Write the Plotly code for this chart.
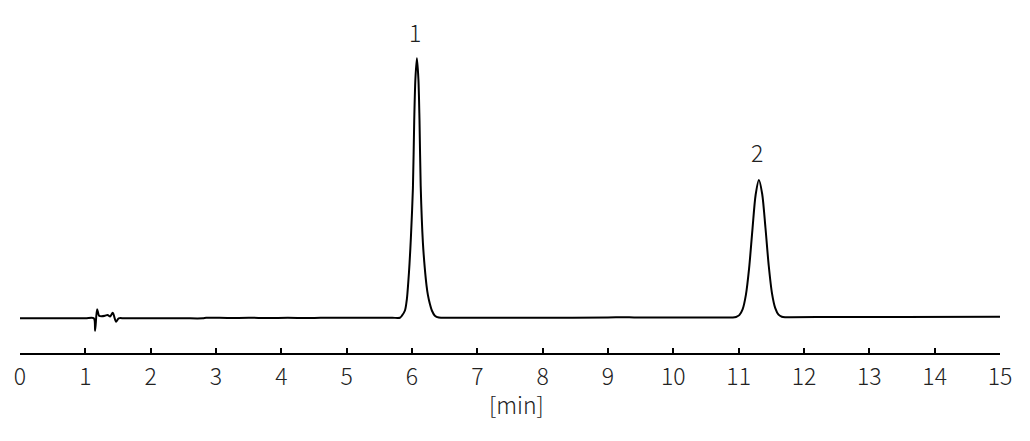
import plotly.graph_objects as go

# Retention time (min) and detector signal (relative units, peak 1 = 100)
time_min = [0.0, 0.5, 1.0, 1.13, 1.15, 1.18, 1.21, 1.25, 1.30, 1.34, 1.38, 1.42, 1.47, 1.51,
            1.6, 2.0, 2.5, 2.8, 2.85, 3.2, 3.5, 3.8, 4.1, 4.4, 4.6, 5.0, 5.5, 5.7,
            5.815, 5.846, 5.892, 5.922, 5.942, 5.962, 5.983, 6.014, 6.034, 6.052, 6.075,
            6.098, 6.115, 6.133, 6.167, 6.195, 6.223, 6.243, 6.274, 6.304, 6.35, 6.41,
            6.6, 7.0, 8.0, 9.0, 9.25, 9.4, 10.0, 10.5, 10.8,
            10.91, 10.96, 11.01, 11.06, 11.11, 11.16, 11.21, 11.26, 11.31,
            11.36, 11.41, 11.46, 11.51, 11.56, 11.61, 11.66, 11.71,
            11.8, 12.5, 13.5, 15.0]
signal = [0.0, 0.0, 0.0, 0.0, -4.8, 3.5, 1.0, 0.8, 1.0, 1.3, 0.7, 2.1, -1.3, 0.0,
          0.0, 0.0, 0.0, 0.0, 0.2, 0.1, 0.2, 0.1, 0.2, 0.1, 0.2, 0.2, 0.2, 0.2,
          0.2, 1.0, 3.0, 7.5, 13.5, 21.0, 31.0, 50.0, 76.0, 92.0, 100.0,
          92.0, 76.0, 51.0, 29.0, 19.5, 12.5, 9.0, 5.5, 3.0, 1.0, 0.3,
          0.2, 0.2, 0.2, 0.3, 0.4, 0.3, 0.3, 0.3, 0.3,
          0.3, 0.5, 1.2, 3.4, 8.9, 19.3, 33.9, 47.5, 53.2,
          47.8, 34.8, 20.3, 9.6, 3.9, 1.4, 0.6, 0.4,
          0.4, 0.5, 0.5, 0.6]

peak_labels = ["1", "2"]
peak_label_x = [6.045, 11.28]
peak_label_y = [110.2, 64.0]

tick_vals = list(range(0, 16))
x_title = "[min]"

fig = go.Figure()
fig.add_trace(go.Scatter(
    x=time_min, y=signal, mode="lines",
    line=dict(color="black", width=2, shape="spline", smoothing=0.8),
    hoverinfo="skip", cliponaxis=False,
))

for lab, lx, ly in zip(peak_labels, peak_label_x, peak_label_y):
    fig.add_annotation(x=lx, y=ly, text=lab, showarrow=False,
                       font=dict(size=23, color="#222"))

# axis title drawn as an annotation below the tick labels
fig.add_annotation(x=0.5, y=0, xref="paper", yref="paper", text=x_title,
                   showarrow=False, yanchor="middle", yshift=-51, xshift=6,
                   font=dict(size=23, color="#222"))

fig.update_layout(
    width=1022, height=433,
    margin=dict(l=12, r=30, t=12, b=88, autoexpand=False),
    plot_bgcolor="white", paper_bgcolor="white",
    showlegend=False,
    font=dict(family="Noto Sans CJK JP", size=23, color="#222", weight=300),
)
fig.update_xaxes(
    range=[0, 15], tickvals=tick_vals, ticktext=[str(v) for v in tick_vals],
    showline=True, linecolor="black", linewidth=2,
    ticks="inside", ticklen=5, tickwidth=2, tickcolor="black",
    showgrid=False, zeroline=False, automargin=False,
    tickfont=dict(size=23, color="#222"),
    ticklabelstandoff=2,
)
fig.update_yaxes(visible=False, range=[-13.35, 114.7], showgrid=False, zeroline=False,
                 automargin=False)

fig.write_html("out.html")
